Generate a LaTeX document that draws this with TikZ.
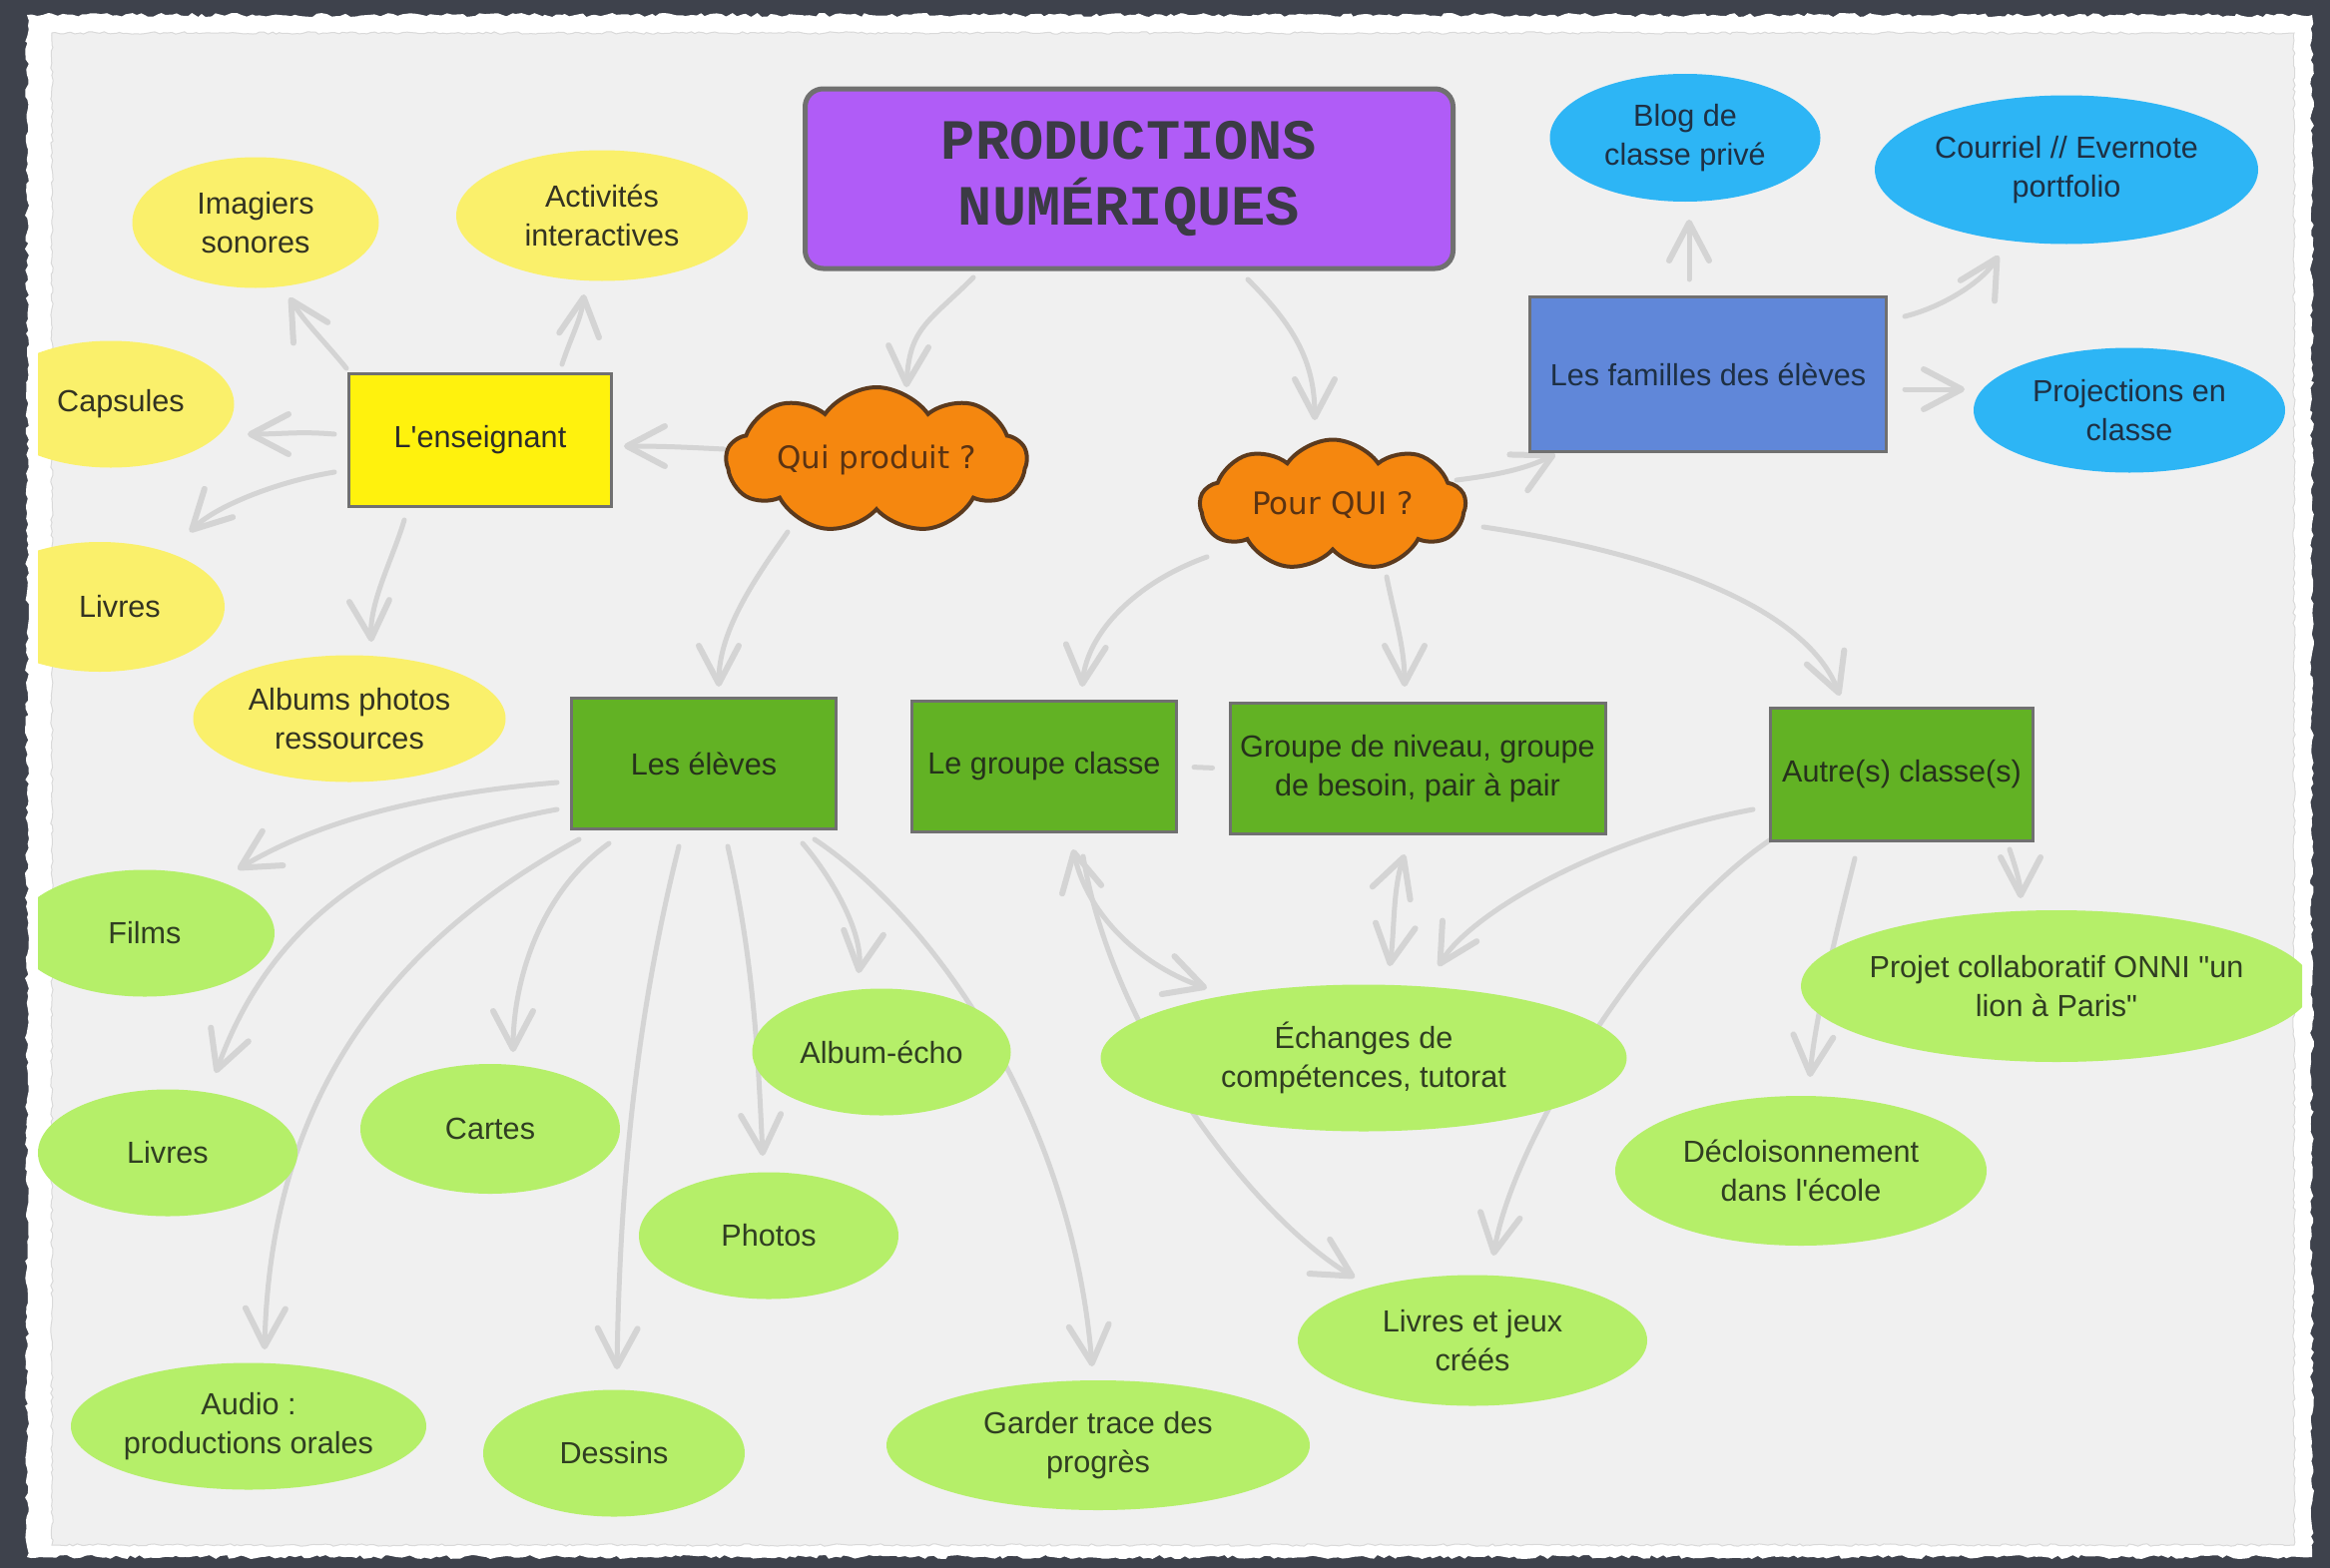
\documentclass[tikz,border=0pt]{standalone}
\usepackage{fontspec}
\newfontfamily\lsans{Liberation Sans}
\newfontfamily\lmono{Liberation Mono}
\newfontfamily\dejav{DejaVu Sans}
\usetikzlibrary{shapes.geometric,shapes.symbols,arrows.meta,calc,decorations.pathmorphing}
\pgfdeclarelayer{paper}
\pgfdeclarelayer{edges}
\pgfsetlayers{paper,edges,main}
\definecolor{darkbg}{HTML}{3E424C}
\definecolor{paperg}{HTML}{F0F0F0}
\definecolor{connc}{HTML}{D4D4D4}
\definecolor{boxline}{HTML}{707070}
\definecolor{titlefill}{HTML}{B05CF7}
\definecolor{titletext}{HTML}{3B3B44}
\definecolor{cloudfill}{HTML}{F5870F}
\definecolor{cloudline}{HTML}{5B3A1E}
\definecolor{cloudtext}{HTML}{5A3313}
\definecolor{ensfill}{HTML}{FFF20D}
\definecolor{famfill}{HTML}{6087D9}
\definecolor{gboxfill}{HTML}{62B224}
\definecolor{yelfill}{HTML}{FAF06B}
\definecolor{bluefill}{HTML}{2DB5F5}
\definecolor{greenfill}{HTML}{B5EF69}
\definecolor{darktext}{HTML}{2B2B2B}
\definecolor{gboxtext}{HTML}{26321C}
\definecolor{yeltext}{HTML}{333322}
\definecolor{bluetext}{HTML}{1E3044}
\definecolor{greentext}{HTML}{303E22}
\begin{document}
\begin{tikzpicture}[x=1pt,y=-1pt,
  base/.style={font=\lsans\fontsize{30.6}{38.7}\selectfont, align=center, inner sep=0pt},
  boxsty/.style={base, rectangle, draw=boxline, line width=3pt},
  titlesty/.style={rectangle, rounded corners=18pt, fill=titlefill, draw=boxline, line width=5pt,
     font=\lmono\bfseries\fontsize{57}{66}\selectfont, text=titletext, align=center, inner sep=0pt},
  cloudsty/.style={cloud, cloud puffs=9, cloud puff arc=110, cloud ignores aspect, fill=cloudfill,
     draw=cloudline, line width=4pt, font=\dejav\fontsize{31}{38}\selectfont, text=cloudtext,
     inner xsep=-25pt, inner ysep=0pt},
  ensbox/.style={boxsty, fill=ensfill, text=darktext},
  fambox/.style={boxsty, fill=famfill, text=bluetext},
  gbox/.style={boxsty, fill=gboxfill, text=gboxtext},
  yel/.style={base, ellipse, fill=yelfill, text=yeltext},
  blu/.style={base, ellipse, fill=bluefill, text=bluetext},
  grn/.style={base, ellipse, fill=greenfill, text=greentext},
  conn/.style={draw=connc, line width=5pt, line cap=round},
  >={Straight Barb[length=38pt,width=40pt,line width=6pt,round]}
]
\useasboundingbox (0,0) rectangle (2334,1571);
\pgfmathsetseed{7}
\begin{pgfonlayer}{paper}
  \fill[darkbg] (0,0) rectangle (2334,1571);
  \fill[white, decorate, decoration={random steps, segment length=5pt, amplitude=2pt}]
    (27,15) -- (2316,15) -- (2316,1560) -- (27,1560) -- cycle;
  \filldraw[fill=paperg, draw=black!15, line width=1pt, decorate, decoration={random steps, segment length=4pt, amplitude=1.2pt}]
    (52,33) -- (2298,33) -- (2298,1548) -- (52,1548) -- cycle;
\end{pgfonlayer}

\begin{scope}
  \clip (38,24) rectangle (2306,1554);
  % title and clouds
  \node[titlesty, minimum width=649pt, minimum height=180pt] (title) at (1131,179) {PRODUCTIONS\\NUMÉRIQUES};
  \node[cloudsty, minimum width=301pt, minimum height=146pt] (qui) at (878,461) {Qui produit ?};
  \node[cloudsty, minimum width=266pt, minimum height=131pt] (pour) at (1335,506) {Pour QUI ?};
  % boxes
  \node[ensbox, minimum width=263pt, minimum height=133pt] (ens) at (481,441) {L'enseignant};
  \node[fambox, minimum width=357pt, minimum height=155pt] (fam) at (1711,375) {Les familles des élèves};
  \node[gbox, minimum width=265pt, minimum height=131pt] (eleves) at (705,765) {Les élèves};
  \node[gbox, minimum width=265pt, minimum height=131pt] (gc) at (1046,768) {Le groupe classe};
  \node[gbox, minimum width=376pt, minimum height=131pt] (gn) at (1420,770) {Groupe de niveau, groupe\\de besoin, pair à pair};
  \node[gbox, minimum width=263pt, minimum height=133pt] (autre) at (1905,776) {Autre(s) classe(s)};
  % yellow
  \node[yel, minimum width=247pt, minimum height=131pt] (img) at (256,223) {Imagiers\\sonores};
  \node[yel, minimum width=292pt, minimum height=131pt] (act) at (603,216) {Activités\\interactives};
  \node[yel, minimum width=247pt, minimum height=127pt] (caps) at (111,405) {\hspace*{20pt}Capsules};
  \node[yel, minimum width=250pt, minimum height=130pt] (livy) at (100,608) {\hspace*{40pt}Livres};
  \node[yel, minimum width=313pt, minimum height=127pt] (alb) at (350,720) {Albums photos\\ressources};
  % blue
  \node[blu, minimum width=271pt, minimum height=128pt] (blog) at (1688,138) {Blog de\\classe privé};
  \node[blu, minimum width=384pt, minimum height=149pt] (cour) at (2070,170) {Courriel // Evernote\\portfolio};
  \node[blu, minimum width=312pt, minimum height=125pt] (proj) at (2133,411) {Projections en\\classe};
  % green
  \node[grn, minimum width=260pt, minimum height=127pt] (films) at (145,935) {Films};
  \node[grn, minimum width=260pt, minimum height=127pt] (livg) at (168,1155) {Livres};
  \node[grn, minimum width=260pt, minimum height=130pt] (cartes) at (491,1131) {Cartes};
  \node[grn, minimum width=259pt, minimum height=127pt] (echo) at (883,1054) {Album-écho};
  \node[grn, minimum width=260pt, minimum height=127pt] (photos) at (770,1238) {Photos};
  \node[grn, minimum width=356pt, minimum height=127pt] (audio) at (249,1429) {Audio :\\productions orales};
  \node[grn, minimum width=262pt, minimum height=127pt] (dessins) at (615,1456) {Dessins};
  \node[grn, minimum width=424pt, minimum height=130pt] (garder) at (1100,1448) {Garder trace des\\progrès};
  \node[grn, minimum width=527pt, minimum height=147pt] (echanges) at (1366,1060) {Échanges de\\compétences, tutorat};
  \node[grn, minimum width=350pt, minimum height=131pt] (lj) at (1475,1343) {Livres et jeux\\créés};
  \node[grn, minimum width=372pt, minimum height=150pt] (decl) at (1804,1173) {Décloisonnement\\dans l'école};
  \node[grn, minimum width=512pt, minimum height=152pt, inner xsep=-22pt] (projet) at (2060,988) {Projet collaboratif ONNI "un\\lion à Paris"};
\end{scope}

\begin{pgfonlayer}{edges}
  \draw[conn,->] ($(title.center)+(-156,99)$) .. controls +(-45,45) and +(3,-60) .. ($(qui.center)+(30,-73)$);
  \draw[conn,->] ($(title.center)+(119,101)$) .. controls +(45,45) and +(0,-60) .. ($(pour.center)+(-18,-85)$);
  \draw[conn,->] ($(qui.center)+(-153,-11)$) .. controls +(-40,-2) and +(40,0) .. ($(ens.center)+(144,6)$);
  \draw[conn,->] ($(qui.center)+(-89,72)$) .. controls +(-35,50) and +(0,-55) .. ($(eleves.center)+(15,-77)$);
  \draw[conn,->] ($(ens.center)+(-134,-72)$) .. controls +(-20,-25) and +(15,25) .. ($(img.center)+(34,75)$);
  \draw[conn,->] ($(ens.center)+(82,-76)$) .. controls +(10,-30) and +(-3,25) .. ($(act.center)+(-18,79)$);
  \draw[conn,->] ($(ens.center)+(-146,-6)$) .. controls +(-35,-3) and +(35,0) .. ($(caps.center)+(137,30)$);
  \draw[conn,->] ($(ens.center)+(-146,32)$) .. controls +(-60,10) and +(25,-25) .. ($(livy.center)+(90,-75)$);
  \draw[conn,->] ($(ens.center)+(-76,80)$) .. controls +(-12,40) and +(-2,-40) .. ($(alb.center)+(22,-77)$);
  \draw[conn,->] ($(pour.center)+(124,-25)$) .. controls +(40,-5) and +(-30,15) .. ($(fam.center)+(-153,80)$);
  \draw[conn,->] ($(pour.center)+(-126,52)$) .. controls +(-70,25) and +(5,-55) .. ($(gc.center)+(38,-80)$);
  \draw[conn,->] ($(pour.center)+(54,72)$) .. controls +(8,40) and +(0,-40) .. ($(gn.center)+(-13,-82)$);
  \draw[conn,->] ($(pour.center)+(151,22)$) .. controls +(200,30) and +(-30,-80) .. ($(autre.center)+(-62,-79)$);
  \draw[conn,->] ($(fam.center)+(-19,-95)$) .. controls +(0,-25) and +(0,25) .. ($(blog.center)+(4,82)$);
  \draw[conn,->] ($(fam.center)+(197,-58)$) .. controls +(40,-10) and +(-15,25) .. ($(cour.center)+(-68,86)$);
  \draw[conn,->] ($(fam.center)+(197,15)$) .. controls +(25,0) and +(-25,0) .. ($(proj.center)+(-165,-21)$);
  \draw[conn,<->] ($(gc.center)+(29,83)$) .. controls +(15,70) and +(-60,-20) .. ($(echanges.center)+(-157,-70)$);
  \draw[conn,->] ($(gc.center)+(39,90)$) .. controls +(30,180) and +(-100,-60) .. ($(lj.center)+(-118,-63)$);
  \draw[conn,<->] ($(gn.center)+(-13,86)$) .. controls +(-12,35) and +(5,-35) .. ($(echanges.center)+(26,-92)$);
  \draw[conn,->] ($(autre.center)+(-149,35)$) .. controls +(-160,30) and +(30,-50) .. ($(echanges.center)+(75,-92)$);
  \draw[conn,->] ($(autre.center)+(-131,65)$) .. controls +(-120,80) and +(20,-120) .. ($(lj.center)+(21,-85)$);
  \draw[conn,->] ($(autre.center)+(-47,84)$) .. controls +(-15,60) and +(5,-60) .. ($(decl.center)+(9,-94)$);
  \draw[conn,->] ($(autre.center)+(108,75)$) .. controls +(5,15) and +(0,-15) .. ($(projet.center)+(-36,-88)$);
  \draw[conn,->] ($(eleves.center)+(-147,19)$) .. controls +(-180,15) and +(50,-30) .. ($(films.center)+(93,-64)$);
  \draw[conn,->] ($(eleves.center)+(-147,46)$) .. controls +(-220,40) and +(40,-110) .. ($(livg.center)+(48,-80)$);
  \draw[conn,->] ($(eleves.center)+(-125,76)$) .. controls +(-220,120) and +(5,-220) .. ($(audio.center)+(16,-77)$);
  \draw[conn,->] ($(eleves.center)+(-95,80)$) .. controls +(-70,50) and +(0,-70) .. ($(cartes.center)+(23,-77)$);
  \draw[conn,->] ($(eleves.center)+(-25,83)$) .. controls +(-40,160) and +(3,-200) .. ($(dessins.center)+(3,-84)$);
  \draw[conn,->] ($(eleves.center)+(24,83)$) .. controls +(25,110) and +(-5,-110) .. ($(photos.center)+(-6,-80)$);
  \draw[conn,->] ($(eleves.center)+(99,80)$) .. controls +(30,35) and +(5,-40) .. ($(echo.center)+(-23,-79)$);
  \draw[conn,->] ($(eleves.center)+(111,76)$) .. controls +(120,80) and +(-20,-250) .. ($(garder.center)+(-6,-79)$);
  \draw[conn, shorten <=16pt, shorten >=16pt] (gc.east) -- (gn.west);
\end{pgfonlayer}
\end{tikzpicture}
\end{document}
